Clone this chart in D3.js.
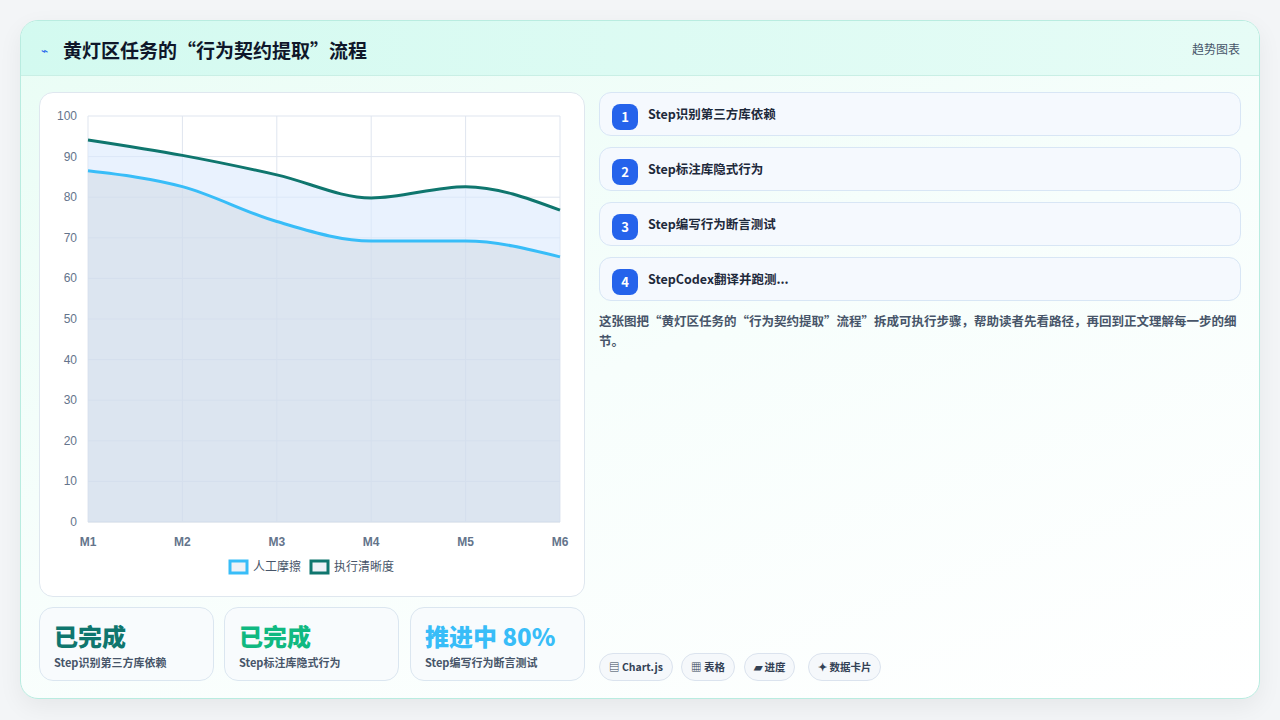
<!DOCTYPE html>
<html><head><meta charset="utf-8">
<script src="https://cdn.jsdelivr.net/npm/d3@7/dist/d3.min.js"></script>
<style>
*{box-sizing:border-box;margin:0;padding:0}
body{width:1280px;height:720px;background:#f3f5f7;font-family:"Noto Sans CJK SC","Noto Sans",sans-serif;position:relative;overflow:hidden}
.card{position:absolute;left:20px;top:20px;width:1240px;height:679px;border:1px solid #b9ece0;border-radius:18px;background:linear-gradient(160deg,#e9fdf5 0%,#f7fefc 50%,#ffffff 100%);box-shadow:0 8px 24px rgba(0,0,0,0.06);overflow:hidden}
.head{height:55px;background:linear-gradient(90deg,#d3faf0,#e6fcf6);border-bottom:1px solid #c9efe5;position:relative}
.head h1{position:absolute;left:42px;top:15px;font-size:19px;font-weight:700;color:#0f172a}
.head .ic{position:absolute;left:20px;top:20px;font-size:12px;color:#2563eb}
.head .r{position:absolute;right:19px;top:19px;font-size:12px;color:#475569}
.chartbox{position:absolute;left:18px;top:71px;width:546px;height:505px;background:#fff;border:1px solid #dfe7ef;border-radius:14px}
.stat{position:absolute;top:586px;width:175px;height:74px;background:#f8fbfd;border:1px solid #dbe6f0;border-radius:14px}
.stat .v{position:absolute;left:14px;top:10px;font-size:24px;font-weight:800}
.stat .l{position:absolute;left:14px;top:46px;font-size:11px;font-weight:700;color:#475569}
.step{position:absolute;left:578px;width:642px;height:44px;background:#f5f9fe;border:1px solid #d8e6f5;border-radius:12px}
.step .n{position:absolute;left:12px;top:11px;width:26px;height:26px;border-radius:8px;background:#2563eb;color:#fff;font-weight:700;font-size:13px;text-align:center;line-height:26px}
.step .t{position:absolute;left:48px;top:11px;font-size:12.5px;font-weight:700;color:#1e293b}
.desc{position:absolute;left:578px;top:290px;width:645px;font-size:12.5px;line-height:20px;color:#475569;font-weight:600}
.tag{position:absolute;top:632px;height:28px;border:1px solid #dbe3ee;border-radius:14px;background:#f5f8fb;font-size:10.5px;font-weight:700;color:#334155;line-height:26px;padding:0 9px}
</style></head><body>
<div class="card">
 <div class="head"><span class="ic">⌁</span><h1>黄灯区任务的“行为契约提取”流程</h1><span class="r">趋势图表</span></div>
 <div class="chartbox"><svg id="chart" width="546" height="505"></svg></div>
 <div class="stat" style="left:18px"><div class="v" style="color:#0f766e">已完成</div><div class="l">Step识别第三方库依赖</div></div>
 <div class="stat" style="left:203px"><div class="v" style="color:#10b981">已完成</div><div class="l">Step标注库隐式行为</div></div>
 <div class="stat" style="left:389px"><div class="v" style="color:#38bdf8">推进中 80%</div><div class="l">Step编写行为断言测试</div></div>
 <div id="steps"></div>
 <div class="desc">这张图把“黄灯区任务的“行为契约提取”流程”拆成可执行步骤，帮助读者先看路径，再回到正文理解每一步的细节。</div>
 <div class="tag" style="left:578px">▤ Chart.js</div>
 <div class="tag" style="left:660px">▦ 表格</div>
 <div class="tag" style="left:723px">▰ 进度</div>
 <div class="tag" style="left:787px">✦ 数据卡片</div>
</div>
<script>
const categories=["M1","M2","M3","M4","M5","M6"];
const seriesA=[86.5,82.6,74,69.2,69.2,65.3];
const seriesB=[94.1,90.3,85.5,79.8,82.6,76.8];
const seriesNames=["人工摩擦","执行清晰度"];
const yTicks=[0,10,20,30,40,50,60,70,80,90,100];
const steps=["Step识别第三方库依赖","Step标注库隐式行为","Step编写行为断言测试","StepCodex翻译并跑测..."];

d3.select("#steps").selectAll("div").data(steps).enter().append("div").attr("class","step")
 .style("top",(d,i)=>(71+i*55)+"px")
 .html((d,i)=>`<div class="n">${i+1}</div><div class="t">${d}</div>`);

const svg=d3.select("#chart");
const ox=39,oy=92;
const x=d3.scalePoint().domain(categories).range([87-ox,559-ox]);
const y=d3.scaleLinear().domain([0,100]).range([521-oy,115-oy]);
const g=svg.append("g");
g.selectAll(".hg").data(yTicks).enter().append("line").attr("x1",x.range()[0]).attr("x2",x.range()[1])
 .attr("y1",d=>y(d)).attr("y2",d=>y(d)).attr("stroke",d=>d===0?"#cbd5e1":"#dfe5ef");
g.selectAll(".vg").data(categories).enter().append("line").attr("x1",d=>x(d)).attr("x2",d=>x(d))
 .attr("y1",y(100)).attr("y2",y(0)).attr("stroke","#dfe5ef");
const curve=d3.curveMonotoneX;
const area=d3.area().x((d,i)=>x(categories[i])).y0(y(0)).y1(d=>y(d)).curve(curve);
const line=d3.line().x((d,i)=>x(categories[i])).y(d=>y(d)).curve(curve);
g.append("path").attr("d",area(seriesB)).attr("fill","rgba(219,234,254,0.6)");
g.append("path").attr("d",area(seriesA)).attr("fill","rgba(203,213,225,0.45)");
g.append("path").attr("d",line(seriesA)).attr("fill","none").attr("stroke","#38bdf8").attr("stroke-width",3);
g.append("path").attr("d",line(seriesB)).attr("fill","none").attr("stroke","#0f766e").attr("stroke-width",3);
g.selectAll(".yl").data(yTicks).enter().append("text").attr("x",x.range()[0]-11).attr("y",d=>y(d)+4)
 .attr("text-anchor","end").attr("font-size",12).attr("fill","#64748b").attr("font-family","Liberation Sans, Arial").text(d=>d);
g.selectAll(".xl").data(categories).enter().append("text").attr("x",d=>x(d)).attr("y",y(0)+24)
 .attr("text-anchor","middle").attr("font-size",12).attr("font-weight",700).attr("fill","#64748b").attr("font-family","Liberation Sans, Arial").text(d=>d);
const leg=[{n:seriesNames[0],c:"#38bdf8",x:190},{n:seriesNames[1],c:"#0f766e",x:271}];
leg.forEach(l=>{
 g.append("rect").attr("x",l.x).attr("y",468).attr("width",17).attr("height",12).attr("fill","#eef2f7").attr("stroke",l.c).attr("stroke-width",3);
 g.append("text").attr("x",l.x+23).attr("y",478).attr("font-size",12).attr("fill","#475569").text(l.n);
});
</script></body></html>
